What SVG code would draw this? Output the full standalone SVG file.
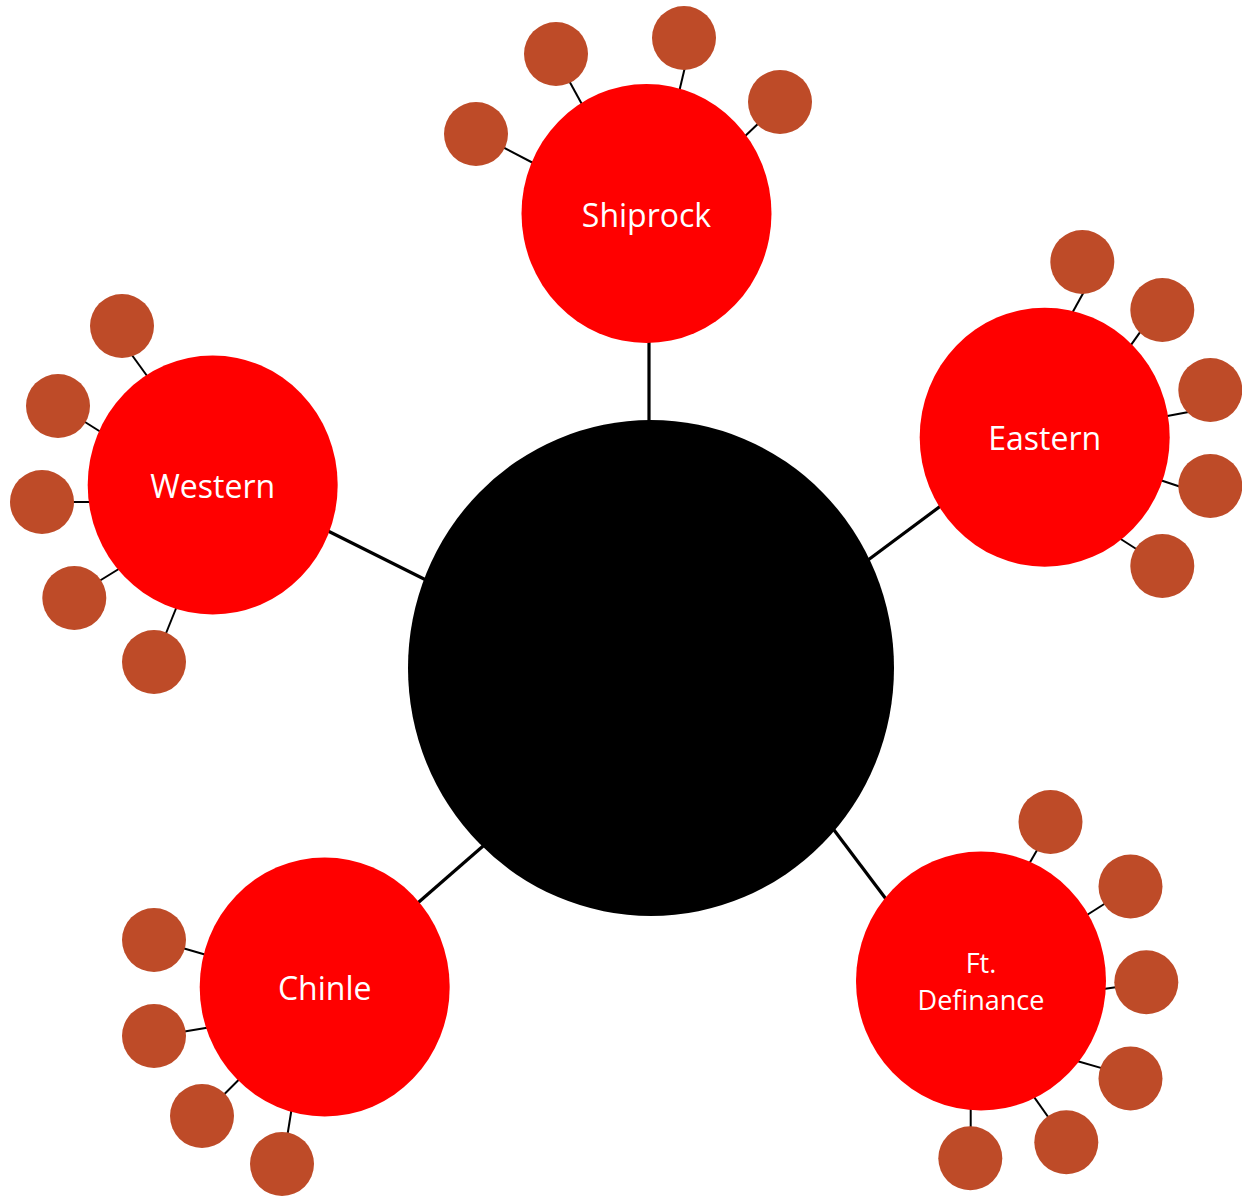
<svg xmlns="http://www.w3.org/2000/svg" width="1242" height="1197" viewBox="0 0 1242 1197">
<style>
.main{stroke:#000;stroke-width:3.2;fill:none}
.sub{stroke:#000;stroke-width:2;fill:none}
.big{fill:#FF0000}
.leaf{fill:#BE4B28}
.lbl{fill:#fff;font-family:"Open Sans","Liberation Sans",sans-serif;font-size:32px;text-anchor:middle}
.lbl2{fill:#fff;font-family:"Open Sans","Liberation Sans",sans-serif;font-size:27px;text-anchor:middle}
</style>
<rect width="1242" height="1197" fill="#fff"/>
<g id="connectors">
<line class="main" x1="649" y1="338" x2="649" y2="425"/>
<line class="main" x1="860" y1="566" x2="946" y2="502"/>
<line class="main" x1="320" y1="527" x2="430" y2="582"/>
<line class="main" x1="412" y1="908" x2="490" y2="840"/>
<line class="main" x1="828" y1="822" x2="892" y2="907"/>
<line class="sub" x1="499.7" y1="145.5" x2="537" y2="165"/>
<line class="sub" x1="567" y1="77" x2="584" y2="108"/>
<line class="sub" x1="685.7" y1="64" x2="678.6" y2="94"/>
<line class="sub" x1="762" y1="120" x2="742" y2="139"/>
<line class="sub" x1="1085.6" y1="288.7" x2="1070.4" y2="316.3"/>
<line class="sub" x1="1142.8" y1="328.4" x2="1128.2" y2="348.9"/>
<line class="sub" x1="1194" y1="411" x2="1162" y2="417"/>
<line class="sub" x1="1184" y1="488" x2="1157" y2="479"/>
<line class="sub" x1="1141" y1="552" x2="1116" y2="536"/>
<line class="sub" x1="129" y1="351" x2="150" y2="380"/>
<line class="sub" x1="81" y1="419.5" x2="104" y2="434"/>
<line class="sub" x1="68" y1="502" x2="95" y2="502"/>
<line class="sub" x1="96" y1="583" x2="122" y2="567"/>
<line class="sub" x1="164.5" y1="637" x2="178" y2="603.5"/>
<line class="sub" x1="179" y1="947" x2="210" y2="956"/>
<line class="sub" x1="180" y1="1032.3" x2="213" y2="1026.7"/>
<line class="sub" x1="221" y1="1097.5" x2="242" y2="1076.5"/>
<line class="sub" x1="286.8" y1="1139" x2="292" y2="1106.5"/>
<line class="sub" x1="1039.7" y1="845.5" x2="1027" y2="867.5"/>
<line class="sub" x1="1109" y1="901" x2="1083" y2="917.5"/>
<line class="sub" x1="1121" y1="986.4" x2="1100" y2="989.6"/>
<line class="sub" x1="1106" y1="1069.4" x2="1073.5" y2="1060"/>
<line class="sub" x1="1051" y1="1121" x2="1031.5" y2="1093.4"/>
<line class="sub" x1="970.7" y1="1132" x2="970.7" y2="1105"/>
</g>
<g id="center"><ellipse cx="651" cy="668" rx="243" ry="248" fill="#000"/></g>
<g id="shiprock">
<ellipse class="big" cx="646.5" cy="213.5" rx="125" ry="129.5"/>
<text class="lbl" x="646.5" y="226.5">Shiprock</text>
</g>
<g id="shiprock-leaves">
<circle class="leaf" cx="476" cy="134" r="32"/>
<circle class="leaf" cx="556" cy="54" r="32"/>
<circle class="leaf" cx="684" cy="38" r="32"/>
<circle class="leaf" cx="780" cy="102" r="32"/>
</g>
<g id="eastern">
<ellipse class="big" cx="1044.7" cy="437.2" rx="125" ry="129.5"/>
<text class="lbl" x="1044.7" y="450">Eastern</text>
</g>
<g id="eastern-leaves">
<circle class="leaf" cx="1082.3" cy="262" r="32"/>
<circle class="leaf" cx="1162.3" cy="310" r="32"/>
<circle class="leaf" cx="1210.3" cy="390" r="32"/>
<circle class="leaf" cx="1210.3" cy="486" r="32"/>
<circle class="leaf" cx="1162.3" cy="566" r="32"/>
</g>
<g id="western">
<ellipse class="big" cx="212.7" cy="485" rx="125" ry="129.5"/>
<text class="lbl" x="212.7" y="498">Western</text>
</g>
<g id="western-leaves">
<circle class="leaf" cx="122" cy="326" r="32"/>
<circle class="leaf" cx="58" cy="406" r="32"/>
<circle class="leaf" cx="42" cy="502" r="32"/>
<circle class="leaf" cx="74.3" cy="598" r="32"/>
<circle class="leaf" cx="154" cy="662" r="32"/>
</g>
<g id="chinle">
<ellipse class="big" cx="324.7" cy="987" rx="125" ry="129.5"/>
<text class="lbl" x="324.7" y="1000">Chinle</text>
</g>
<g id="chinle-leaves">
<circle class="leaf" cx="154" cy="940" r="32"/>
<circle class="leaf" cx="154" cy="1036" r="32"/>
<circle class="leaf" cx="202" cy="1116" r="32"/>
<circle class="leaf" cx="282" cy="1164" r="32"/>
</g>
<g id="ft-definance">
<ellipse class="big" cx="981" cy="981" rx="125" ry="129.5"/>
<text class="lbl2" x="981" y="972.7">Ft.</text>
<text class="lbl2" x="981" y="1010">Definance</text>
</g>
<g id="ft-definance-leaves">
<circle class="leaf" cx="1050.5" cy="822" r="32"/>
<circle class="leaf" cx="1130.5" cy="886.5" r="32"/>
<circle class="leaf" cx="1146.3" cy="982.3" r="32"/>
<circle class="leaf" cx="1130.5" cy="1078.5" r="32"/>
<circle class="leaf" cx="1066.3" cy="1142.3" r="32"/>
<circle class="leaf" cx="970.3" cy="1158.3" r="32"/>
</g>
</svg>
